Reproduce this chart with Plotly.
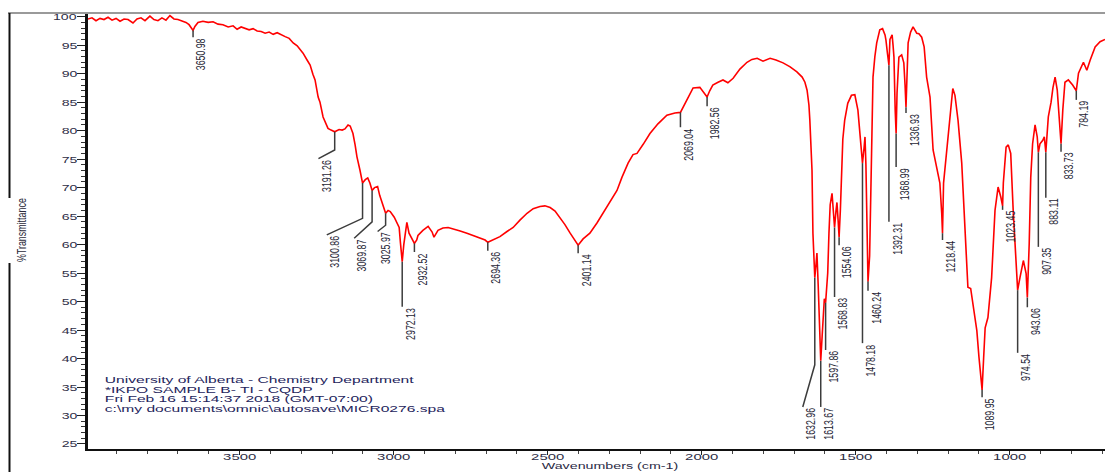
import json
import numpy as np
import plotly.graph_objects as go

# ---- FT-IR spectrum (wavenumber in cm-1, %T) ----
wavenumber = [
    3992, 3979, 3966, 3953, 3940, 3927, 3914, 3901, 3888, 3875, 3862, 3846, 3833, 3820,
    3807, 3791, 3778, 3765, 3752, 3739, 3726, 3713, 3700, 3687, 3674, 3664, 3656, 3650.98,
    3645, 3635, 3619, 3602, 3586, 3570, 3554, 3537, 3521, 3508, 3495, 3482, 3469, 3456,
    3443, 3430, 3417, 3404, 3391, 3378, 3365, 3352, 3339, 3326, 3313, 3304, 3294, 3281,
    3271, 3262, 3255, 3245, 3239, 3229, 3223, 3213, 3203, 3191.26, 3177, 3167, 3158, 3148,
    3141, 3132, 3125, 3119, 3109, 3100.86, 3092, 3084, 3077, 3069.87, 3062, 3052, 3045, 3038,
    3025.97, 3018, 3011, 2998, 2988, 2982, 2978, 2972.13, 2967, 2962, 2957, 2950, 2940,
    2932.52, 2925, 2921, 2905, 2888, 2875, 2869, 2856, 2840, 2823, 2807, 2784, 2762, 2739,
    2720, 2703, 2694.36, 2674, 2655, 2632, 2612, 2590, 2567, 2547, 2525, 2509, 2492, 2476,
    2460, 2444, 2427, 2411, 2401.14, 2385, 2363, 2340, 2320, 2298, 2275, 2259, 2239, 2223,
    2210, 2190, 2168, 2142, 2113, 2087, 2069.04, 2048, 2028, 2006, 1993, 1982.56, 1974, 1964,
    1947, 1931, 1915, 1898, 1876, 1853, 1837, 1820, 1801, 1778, 1759, 1736, 1713, 1691,
    1674, 1665, 1658, 1652, 1649, 1645, 1642, 1639, 1636, 1632.96, 1629, 1626, 1622, 1618,
    1613.67, 1609, 1606, 1602, 1597.86, 1594, 1591, 1587, 1583, 1577, 1573, 1568.83, 1564,
    1561, 1557, 1554.06, 1550, 1546, 1542, 1536, 1526, 1514, 1503, 1493, 1487, 1481, 1478.18,
    1473, 1470, 1467, 1463, 1460.24, 1455, 1452, 1448, 1444, 1438, 1432, 1422, 1413, 1405,
    1402, 1397, 1392.31, 1389, 1382, 1379, 1376, 1372, 1368.99, 1366, 1360, 1351, 1344, 1340,
    1336.93, 1334, 1330, 1322, 1314, 1302, 1295, 1286, 1278, 1270, 1259, 1249, 1237, 1227,
    1221, 1218.44, 1215, 1205, 1194, 1185, 1178, 1168, 1156, 1148, 1140, 1136, 1127, 1120,
    1107, 1100, 1093, 1089.95, 1085, 1080, 1071, 1059, 1048, 1038, 1029, 1023.45, 1021, 1012,
    1005, 997, 989, 980, 974.54, 967, 956, 947, 943.06, 937, 932, 926, 918, 911, 907.35,
    902, 893, 888, 883.11, 875, 866, 860, 853, 846, 840, 833.73, 828, 821, 810, 796, 784.19,
    777, 761, 750, 739, 723, 707, 691,
]
transmittance = [
    99.6, 99.8, 99.3, 99.7, 99.5, 99.9, 99.4, 99.7, 99.2, 99.6, 99.5, 98.9, 99.6, 99.8,
    99.3, 100.1, 99.5, 99.3, 99.8, 99.4, 100.2, 99.6, 99.5, 99.2, 99.0, 98.6, 98.0, 97.6,
    98.3, 99.0, 99.2, 99.0, 99.1, 98.7, 98.6, 98.2, 98.4, 97.8, 98.2, 98.0, 97.7, 97.9,
    97.5, 97.4, 97.1, 97.3, 96.9, 97.2, 96.8, 96.5, 96.2, 95.4, 94.9, 94.3, 93.6, 92.4,
    91.5, 89.9, 88.9, 85.9, 85.0, 82.4, 81.6, 80.4, 80.1, 79.8, 80.2, 80.1, 80.3, 81.0,
    80.8, 79.5, 77.5, 75.4, 73.0, 70.8, 71.4, 71.7, 70.8, 69.5, 70.0, 70.2, 68.6, 67.5,
    65.5, 66.0, 65.8, 64.8, 63.5, 63.0, 60.4, 57.0, 60.0, 62.5, 63.9, 62.0, 60.8,
    60.2, 60.8, 61.6, 62.5, 63.2, 62.2, 61.3, 62.5, 62.9, 63.0, 62.8, 62.4, 62.0, 61.5,
    61.1, 60.8, 60.4, 60.9, 61.4, 62.3, 63.0, 64.3, 65.5, 66.3, 66.7, 66.8, 66.5, 65.9,
    64.8, 63.5, 62.0, 60.6, 59.9, 61.0, 62.0, 63.8, 65.5, 67.5, 69.5, 71.8, 74.3, 75.8,
    76.0, 77.6, 79.5, 81.2, 82.7, 83.1, 83.2, 85.4, 87.5, 87.6, 86.7, 85.9, 87.0, 88.0,
    88.5, 88.9, 88.4, 89.2, 90.8, 92.0, 92.5, 92.7, 92.2, 92.7, 92.4, 91.9, 91.2, 90.3,
    89.4, 88.5, 87.1, 84.5, 81.8, 78.0, 73.0, 62.0, 56.0, 54.2, 56.5, 58.5, 53.0, 47.0,
    39.6, 44.0, 47.0, 50.5, 49.8, 52.0, 55.0, 62.0, 67.0, 69.0, 66.5, 63.0, 66.0,
    67.4, 64.0, 61.3, 66.0, 74.3, 78.5, 81.8, 84.8, 86.2, 86.3, 83.6, 80.1, 76.6, 74.3,
    77.0, 78.9, 74.0, 62.0, 53.5, 58.0, 66.0, 80.6, 89.4, 93.0, 95.4, 97.7, 97.9, 96.8,
    95.9, 93.5, 91.5, 96.0, 96.8, 95.0, 92.9, 83.6, 79.5, 86.6, 92.9, 93.3, 91.9, 88.0,
    84.1, 89.0, 95.4, 97.3, 98.2, 97.1, 97.0, 96.4, 94.7, 89.4, 85.9, 76.6, 73.6, 70.8,
    65.5, 62.0, 70.8, 76.6, 83.6, 87.4, 86.2, 81.8, 74.3, 64.8, 56.7, 52.5, 52.3, 49.6,
    44.9, 40.2, 36.6, 34.5, 40.0, 45.4, 47.2, 54.2, 66.0, 70.1, 68.3, 66.8, 70.8, 77.1,
    77.5, 76.0, 66.0, 57.2, 52.0, 54.2, 57.2, 54.9, 50.7, 60.2, 71.8, 77.7, 81.0, 78.9, 76.2,
    77.7, 78.3, 78.9, 76.2, 82.4, 85.0, 87.5, 89.4, 87.1, 81.8, 77.7, 83.6, 88.5, 88.9, 88.0, 87.0,
    90.1, 92.0, 90.6, 92.4, 94.7, 95.6, 96.0,
]

# ---- peak picks ----
peak_wavenumbers = [
    3650.98, 3191.26, 3100.86, 3069.87, 3025.97, 2972.13, 2932.52, 2694.36, 2401.14,
    2069.04, 1982.56, 1632.96, 1613.67, 1597.86, 1568.83, 1554.06, 1478.18, 1460.24,
    1392.31, 1368.99, 1336.93, 1218.44, 1089.95, 1023.45, 974.54, 943.06, 907.35,
    883.11, 833.73, 784.19,
]
peak_labels = [f"{w:.2f}" for w in peak_wavenumbers]

# leader-line routing for each pick: (%T where the vertical part stops,
# wavenumber of the bent end or None, %T of the end)
leader_route = [
    (96.4, None, 96.4), (76.6, 3244, 75.1), (64.6, 3217, 61.7), (64.0, 3128, 61.1),
    (63.4, 3052, 62.3), (49.1, None, 49.1), (58.7, None, 58.7), (58.9, None, 58.9),
    (58.5, None, 58.5), (80.6, None, 80.6), (84.3, None, 84.3), (38.9, 1672, 31.5),
    (31.5, None, 31.5), (41.5, None, 41.5), (50.8, None, 50.8), (59.9, None, 59.9),
    (42.7, None, 42.7), (51.9, None, 51.9), (64.0, None, 64.0), (73.6, None, 73.6),
    (83.1, None, 83.1), (60.8, None, 60.8), (33.2, None, 33.2), (66.1, None, 66.1),
    (41.0, None, 41.0), (49.0, None, 49.0), (59.6, None, 59.6), (68.2, None, 68.2),
    (76.3, None, 76.3), (85.4, None, 85.4),
]

header_lines = [
    "University of Alberta - Chemistry Department",
    "*IKPO SAMPLE B- TI - CQDP",
    "Fri Feb 16 15:14:37 2018 (GMT-07:00)",
    "c:\\my documents\\omnic\\autosave\\MICR0276.spa",
]

x_ticks = [3500, 3000, 2500, 2000, 1500, 1000]
y_ticks = list(range(25, 101, 5))

X_RANGE = [3992, 691]
Y_RANGE = [24.12, 100.65]

# plot-area geometry in pixels (used to place paper-referenced text)
PLOT_LEFT, PLOT_WIDTH = 88, 1017
PLOT_BOTTOM, PLOT_HEIGHT = 449, 436


def paper_x(px):
    return (px - PLOT_LEFT) / PLOT_WIDTH


def paper_y(py):
    return (PLOT_BOTTOM - py) / PLOT_HEIGHT


FONT = "Liberation Sans, Arial, sans-serif"
# the printout's lettering is wide and short: every text gets a horizontal
# stretch (screen x) applied after drawing
WIDE = 1.5

fig = go.Figure()

fig.add_trace(go.Scatter(
    x=wavenumber, y=transmittance, mode="lines",
    line=dict(color="#ff0000", width=1.6), hoverinfo="skip", showlegend=False,
))

# leader lines from each pick down to its label
wn_inc = np.array(wavenumber[::-1], dtype=float)
t_inc = np.array(transmittance[::-1], dtype=float)
lx, ly = [], []
for w, (t_bend, w_end, t_end) in zip(peak_wavenumbers, leader_route):
    t_peak = float(np.interp(w, wn_inc, t_inc))
    lx += [w, w]
    ly += [t_peak, t_bend]
    if w_end is not None:
        lx.append(w_end)
        ly.append(t_end)
    lx.append(None)
    ly.append(None)
fig.add_trace(go.Scatter(
    x=lx, y=ly, mode="lines", line=dict(color="#3c3c3c", width=1.5),
    hoverinfo="skip", showlegend=False,
))

annotations = []
stretch = []  # (scale x, scale y, origin) in each text's own frame


def add_text(spec, sx, sy, origin):
    annotations.append(spec)
    stretch.append((sx, sy, origin))


for w, lab, (t_bend, w_end, t_end) in zip(peak_wavenumbers, peak_labels, leader_route):
    add_text(dict(
        x=w if w_end is None else w_end, y=t_end, xref="x", yref="y",
        text=lab, showarrow=False, textangle=-90,
        xanchor="center", yanchor="top", xshift=8, yshift=1,
        font=dict(family=FONT, size=8.8, color="#1f2636"),
    ), 1, WIDE, "50% 50%")

# x tick labels, just under the axis line
for v in x_ticks:
    add_text(dict(
        x=v, y=paper_y(456), xref="x", yref="paper",
        text=str(v), showarrow=False, xanchor="center", yanchor="middle",
        font=dict(family=FONT, size=9.6, color="#2e2e46"),
    ), 1.55, 1, "50% 50%")

# y tick labels, right-aligned against the tick marks
for v in y_ticks:
    add_text(dict(
        x=paper_x(79), y=v, xref="paper", yref="y",
        text=str(v), showarrow=False, xanchor="right", yanchor="middle",
        font=dict(family=FONT, size=9.4, color="#2e2e46"),
    ), WIDE, 1, "100% 50%")

# sample header block
header_y_px = [380, 389.7, 399.4, 409.1]
for line, ypx in zip(header_lines, header_y_px):
    add_text(dict(
        x=paper_x(103), y=paper_y(ypx), xref="paper", yref="paper",
        text=line, showarrow=False, xanchor="left", yanchor="middle",
        font=dict(family=FONT, size=8.4, color="#24245c"),
    ), 1.86, 1, "0% 50%")

# axis titles
add_text(dict(
    x=paper_x(21), y=paper_y(230), xref="paper", yref="paper",
    text="%Transmittance", showarrow=False, textangle=-90,
    xanchor="center", yanchor="middle",
    font=dict(family=FONT, size=8.9, color="#2a2a3a"),
), 1, WIDE, "50% 50%")
add_text(dict(
    x=paper_x(610), y=paper_y(466.5), xref="paper", yref="paper",
    text="Wavenumbers (cm-1)", showarrow=False,
    xanchor="center", yanchor="middle",
    font=dict(family=FONT, size=9.2, color="#2a2a44"),
), 1.55, 1, "50% 50%")

shapes = [
    # outer frame: top edge and left edge (broken around the y title)
    dict(type="line", xref="paper", yref="paper", x0=paper_x(8), x1=1.0, y0=1.0, y1=1.0,
         line=dict(color="#9a9a9a", width=2)),
    dict(type="line", xref="paper", yref="paper", x0=paper_x(9.5), x1=paper_x(9.5),
         y0=1.0, y1=paper_y(198), line=dict(color="#111111", width=2)),
    dict(type="line", xref="paper", yref="paper", x0=paper_x(9.5), x1=paper_x(9.5),
         y0=paper_y(263), y1=paper_y(475), line=dict(color="#111111", width=2)),
]

fig.update_layout(
    width=1105, height=472,
    margin=dict(l=88, r=0, t=13, b=23),
    paper_bgcolor="white", plot_bgcolor="white",
    showlegend=False,
    annotations=annotations, shapes=shapes,
    xaxis=dict(
        range=X_RANGE, tickvals=x_ticks, showticklabels=False,
        ticks="outside", ticklen=4, tickwidth=1, tickcolor="#222",
        showline=True, linecolor="#111", linewidth=2,
        showgrid=False, zeroline=False,
        minor=dict(dtick=100, tick0=0, ticks="outside", ticklen=3, tickcolor="#444", showgrid=False),
    ),
    yaxis=dict(
        range=Y_RANGE, tickvals=y_ticks, showticklabels=False,
        ticks="outside", ticklen=8, tickwidth=1.3, tickcolor="#222",
        showline=True, linecolor="#111", linewidth=2.5,
        showgrid=False, zeroline=False,
        minor=dict(dtick=1, tick0=0, ticks="outside", ticklen=4, tickcolor="#333", showgrid=False),
    ),
)

# stylesheet that widens each annotation's lettering in place
css = "".join(
    f'g.annotation[data-index="{i}"] text.annotation-text'
    f'{{transform-box:fill-box;transform-origin:{o};transform:scale({sx},{sy});}}'
    for i, (sx, sy, o) in enumerate(stretch)
)
post_script = (
    "var st=document.createElement('style');"
    f"st.textContent={json.dumps(css)};"
    "document.head.appendChild(st);"
)

fig.write_html("out.html", post_script=post_script)
